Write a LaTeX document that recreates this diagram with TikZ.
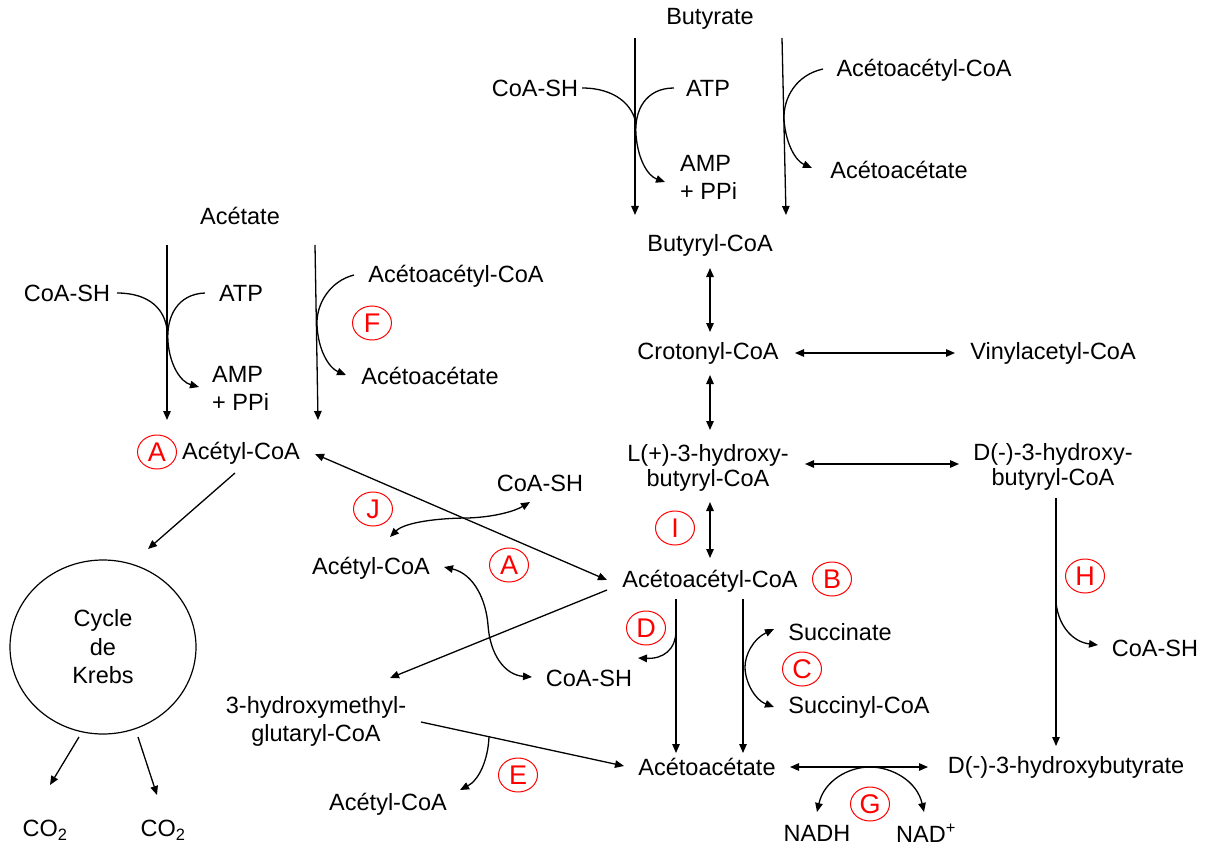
\documentclass[tikz,border=0pt]{standalone}
\usepackage{fontspec}
\setmainfont{Liberation Sans}
\usetikzlibrary{arrows.meta,shapes.geometric}
\begin{document}
\begin{tikzpicture}[x=1pt,y=-1pt,
  lbl/.style={font=\fontsize{23.5}{28}\selectfont, inner sep=0pt, align=center},
  tag/.style={ellipse, draw=red, line width=1pt, text=red, inner sep=0pt,
              minimum width=39pt, minimum height=34pt, font=\fontsize{27}{30}\selectfont},
  ln/.style={line width=1.3pt},
  arr/.style={line width=1.3pt, -{Triangle[length=9pt,width=7.5pt]}},
  darr/.style={line width=1.3pt, {Triangle[length=9pt,width=7.5pt]}-{Triangle[length=9pt,width=7.5pt]}}]
\useasboundingbox (0,0) rectangle (1209,850);

% ---------- Butyrate branch ----------
\node[lbl] (butyrate) at (710,19) {Butyrate};
\coordinate (bLt) at (635,38); \coordinate (bLb) at (635,215);
\coordinate (bRt) at (782,38); \coordinate (bRb) at (786,215);
\draw[arr] (bLt) -- (bLb);
\draw[arr] (bRt) -- (bRb);
\node[lbl] (coash1) at (535,88) {CoA-SH};
\node[lbl] (atp1) at (708,88) {ATP};
\node[lbl, align=left, anchor=west] (amp1) at (680,177) {AMP\\+ PPi};
\node[lbl] (aacoa1) at (924,70) {Acétoacétyl-CoA};
\node[lbl] (aa1) at (899,170) {Acétoacétate};
\coordinate (c1s) at (582,88); \coordinate (c1e) at (636,124);
\draw[ln] (c1s) .. controls (615,88) and (633,105) .. (c1e);
\coordinate (a1s) at (674,88); \coordinate (a1m) at (636,135); \coordinate (a1e) at (665,182);
\draw[arr] (a1s) .. controls (646,88) and (634,110) .. (a1m) .. controls (638,160) and (648,176) .. (a1e);
\coordinate (f1s) at (823,69); \coordinate (f1m) at (784,120); \coordinate (f1e) at (812,168);
\draw[arr] (f1s) .. controls (796,75) and (783,98) .. (f1m) .. controls (786,145) and (796,161) .. (f1e);

% ---------- central column ----------
\node[lbl] (butyryl) at (710,245) {Butyryl-CoA};
\node[lbl] (crotonyl) at (708,353) {Crotonyl-CoA};
\node[lbl] (vinyl) at (1053,353) {Vinylacetyl-CoA};
\node[lbl, font=\fontsize{23.5}{25.5}\selectfont] (lhb) at (708,468) {L(+)-3-hydroxy-\\butyryl-CoA};
\node[lbl, font=\fontsize{23.5}{25.5}\selectfont] (dhb) at (1053,467) {D(-)-3-hydroxy-\\butyryl-CoA};
\node[lbl] (aacoa) at (710,581) {Acétoacétyl-CoA};
\node[tag] (tI) at (675,528) {I};
\node[tag] (tB) at (832,579) {B};
\coordinate (v1t) at (710,268); \coordinate (v1b) at (710,332);
\coordinate (v2t) at (710,375); \coordinate (v2b) at (710,430);
\coordinate (v3t) at (710,502); \coordinate (v3b) at (710,558);
\coordinate (h1l) at (795,353); \coordinate (h1r) at (955,353);
\coordinate (h2l) at (805,464); \coordinate (h2r) at (959,464);
\draw[darr] (v1t) -- (v1b);
\draw[darr] (v2t) -- (v2b);
\draw[darr] (v3t) -- (v3b);
\draw[darr] (h1l) -- (h1r);
\draw[darr] (h2l) -- (h2r);

% ---------- right column ----------
\node[lbl] (dhbut) at (1066,767) {D(-)-3-hydroxybutyrate};
\node[lbl] (coashH) at (1155,648) {CoA-SH};
\node[tag] (tH) at (1085,576) {H};
\coordinate (dvt) at (1056,498); \coordinate (dvb) at (1056,746);
\draw[arr] (dvt) -- (dvb);
\coordinate (hs) at (1056,603); \coordinate (he) at (1098,645);
\draw[arr] (hs) .. controls (1059,628) and (1074,642) .. (he);

% ---------- Acetate branch ----------
\node[lbl] (acetate) at (240,216) {Acétate};
\coordinate (aLt) at (167,245); \coordinate (aLb) at (167,420);
\coordinate (aRt) at (315,245); \coordinate (aRb) at (318,420);
\draw[arr] (aLt) -- (aLb);
\draw[arr] (aRt) -- (aRb);
\node[lbl] (coash2) at (67,293) {CoA-SH};
\node[lbl] (atp2) at (241,293) {ATP};
\node[lbl, align=left, anchor=west] (amp2) at (212,388) {AMP\\+ PPi};
\node[lbl] (aacoa2) at (456,276) {Acétoacétyl-CoA};
\node[lbl] (aa2) at (430,376) {Acétoacétate};
\node[tag] (tF) at (372,323) {F};
\coordinate (c2s) at (117,293); \coordinate (c2e) at (167,330);
\draw[ln] (c2s) .. controls (150,293) and (165,310) .. (c2e);
\coordinate (a2s) at (205,293); \coordinate (a2m) at (168,342); \coordinate (a2e) at (199,387);
\draw[arr] (a2s) .. controls (178,294) and (166,316) .. (a2m) .. controls (170,366) and (181,382) .. (a2e);
\coordinate (f2s) at (354,275); \coordinate (f2m) at (317,325); \coordinate (f2e) at (346,375);
\draw[arr] (f2s) .. controls (330,281) and (316,304) .. (f2m) .. controls (318,350) and (329,368) .. (f2e);

\node[tag] (tA1) at (157,452) {A};
\node[lbl] (acoa1) at (241,453) {Acétyl-CoA};

% ---------- Krebs ----------
\node[ellipse, draw, line width=1.2pt, minimum width=186pt, minimum height=174pt, inner sep=0pt,
      font=\fontsize{23.5}{28.5}\selectfont, align=center] (krebs) at (103,647) {Cycle\\de\\Krebs};
\coordinate (kin1) at (235,473); \coordinate (kin2) at (148,549);
\draw[arr] (kin1) -- (kin2);
\node[lbl] (co2a) at (45,830) {CO\textsubscript{2}};
\node[lbl] (co2b) at (163,830) {CO\textsubscript{2}};
\coordinate (k1s) at (79,737); \coordinate (k1e) at (50,785);
\coordinate (k2s) at (138,737); \coordinate (k2e) at (157,795);
\draw[arr] (k1s) -- (k1e);
\draw[arr] (k2s) -- (k2e);

% ---------- middle ----------
\coordinate (lA1) at (315,454); \coordinate (lA2) at (607,580);
\draw[darr] (lA1) -- (lA2);
\node[tag] (tJ) at (373,509) {J};
\node[lbl] (coash3) at (540,483) {CoA-SH};
\coordinate (js) at (390,537); \coordinate (jm) at (468,518); \coordinate (je) at (530,502);
\draw[darr] (js) .. controls (405,522) and (440,518) .. (jm) .. controls (495,517) and (515,511) .. (je);
\node[lbl] (acoa2) at (371,568) {Acétyl-CoA};
\node[tag] (tA2) at (509,565) {A};
\node[lbl] (coash4) at (589,678) {CoA-SH};
\coordinate (ks) at (444,567); \coordinate (km) at (488,625); \coordinate (ke) at (532,677);
\draw[darr] (ks) .. controls (474,574) and (486,600) .. (km) .. controls (490,655) and (505,675) .. (ke);
\node[lbl] (hmg) at (316,721) {3-hydroxymethyl-\\glutaryl-CoA};
\coordinate (hm1) at (607,590); \coordinate (hm2) at (390,678);
\draw[arr] (hm1) -- (hm2);
\node[lbl] (aa) at (707,767) {Acétoacétate};
\coordinate (hg1) at (421,722); \coordinate (hg2) at (624,766);
\draw[arr] (hg1) -- (hg2);
\coordinate (es) at (489,737); \coordinate (ee) at (460,790);
\draw[arr] (es) .. controls (488,760) and (479,780) .. (ee);
\node[tag] (tE) at (518,775) {E};
\node[lbl] (acoa3) at (388,804) {Acétyl-CoA};

% D branch
\node[tag] (tD) at (646,628) {D};
\coordinate (dt) at (676,599); \coordinate (db) at (676,753);
\draw[arr] (dt) -- (db);
\coordinate (ds) at (676,630); \coordinate (de) at (638,658);
\draw[arr] (ds) .. controls (676,650) and (663,659) .. (de);

% C branch
\coordinate (ct) at (743,599); \coordinate (cb) at (743,753);
\draw[arr] (ct) -- (cb);
\coordinate (cs) at (774,629); \coordinate (cm) at (745,667); \coordinate (ce) at (774,707);
\draw[darr] (cs) .. controls (753,639) and (745,655) .. (cm) .. controls (745,682) and (755,700) .. (ce);
\node[lbl] (succ) at (840,632) {Succinate};
\node[tag] (tC) at (802,669) {C};
\node[lbl] (succoa) at (859,707) {Succinyl-CoA};

% G
\coordinate (gl) at (790,767); \coordinate (gr) at (928,767);
\draw[darr] (gl) -- (gr);
\coordinate (gs) at (817,812); \coordinate (gm) at (870,767); \coordinate (ge) at (924,812);
\draw[darr] (gs) .. controls (824,781) and (848,767) .. (gm) .. controls (892,767) and (917,781) .. (ge);
\node[tag] (tG) at (870,804) {G};
\node[lbl] (nadh) at (817,833) {NADH};
\node[lbl] (nad) at (926,833) {NAD\textsuperscript{+}};
\end{tikzpicture}
\end{document}
